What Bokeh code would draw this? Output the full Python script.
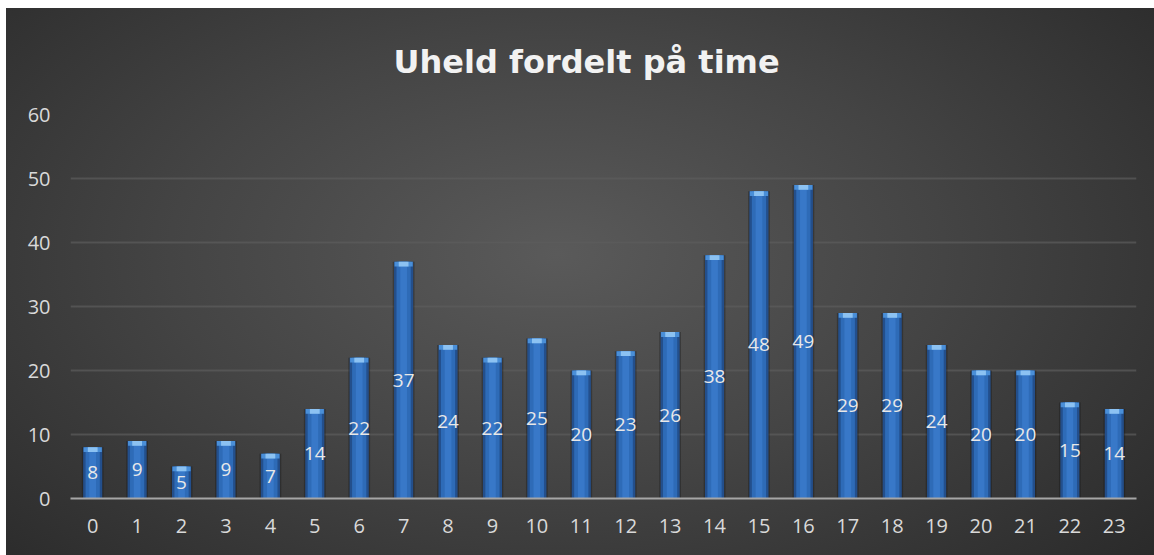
from bokeh.plotting import figure
from bokeh.models import ColumnDataSource, FactorRange, Range1d, Title, SingleIntervalTicker
from bokeh.core.properties import value
from bokeh.embed import file_html
from bokeh.resources import INLINE

hours = [str(h) for h in range(24)]
counts = [8, 9, 5, 9, 7, 14, 22, 37, 24, 22, 25, 20, 23, 26, 38, 48, 49, 29, 29, 24, 20, 20, 15, 14]
title_text = "Uheld fordelt på time"

FONT = "Open Sans"

src = ColumnDataSource(dict(
    x=hours,
    top=counts,
    cap_bottom=[c - 0.75 for c in counts],
    mid=[c / 2 for c in counts],
    lbl=[str(c) for c in counts],
))

p = figure(
    width=1148, height=547,
    x_range=FactorRange(*hours, range_padding=0),
    y_range=Range1d(0, 60),
    output_backend="svg", toolbar_location=None,
    min_border_left=64, min_border_right=18, min_border_top=106, min_border_bottom=57,
)
p.styles = {
    "margin-left": "6px",
    "margin-top": "8px",
    "background-image": "radial-gradient(ellipse 75% 90% at 48% 45%, #5a5a5a 0%, #444444 45%, #262626 100%)",
}
p.border_fill_color = None
p.background_fill_color = None
p.outline_line_color = None

t = Title(text=title_text, align="left", vertical_align="top", text_font="DejaVu Sans",
          text_font_size="32px", text_font_style="bold", text_color="#f2f2f2",
          standoff=64, offset=323)
p.add_layout(t, "above")

# bars: shadow, body, highlight, cap
p.vbar(x="x", top="top", bottom=0, width=0.49, source=src, fill_color="#141414",
       fill_alpha=0.35, line_color=None)
p.vbar(x="x", top="top", bottom=0, width=0.43, source=src, fill_color="#234f8c", line_color=None)
p.vbar(x="x", top="top", bottom=0, width=0.32, source=src, fill_color="#2e6bb7", line_color=None)
p.vbar(x="x", top="top", bottom=0, width=0.15, source=src, fill_color="#3878c8", line_color=None)
p.vbar(x="x", top="top", bottom="cap_bottom", width=0.41, source=src, fill_color="#4a8fd8", line_color=None)
p.vbar(x="x", top="top", bottom="cap_bottom", width=0.22, source=src, fill_color="#8cc2f2", line_color=None)

p.text(x="x", y="mid", text="lbl", source=src, text_align="center", text_baseline="middle",
       text_font=value(FONT), text_font_size="19px", text_color="#e8e8e8")

# axes
p.yaxis.ticker = SingleIntervalTicker(interval=10)
for ax in (p.xaxis, p.yaxis):
    ax.major_tick_line_color = None
    ax.minor_tick_line_color = None
    ax.major_label_text_font = FONT
    ax.major_label_text_font_size = "20px"
    ax.major_label_text_color = "#d9d9d9"
p.yaxis.axis_line_color = None
p.yaxis.major_label_standoff = 14
p.xaxis.axis_line_color = "#a6a6a6"
p.xaxis.axis_line_width = 2
p.xaxis.major_label_standoff = 14

p.xgrid.grid_line_color = None
p.ygrid.grid_line_color = "#5c5c5c"
p.ygrid.grid_line_alpha = 0.7
p.ygrid.grid_line_width = 2

open("out.html", "w").write(file_html(p, INLINE))
